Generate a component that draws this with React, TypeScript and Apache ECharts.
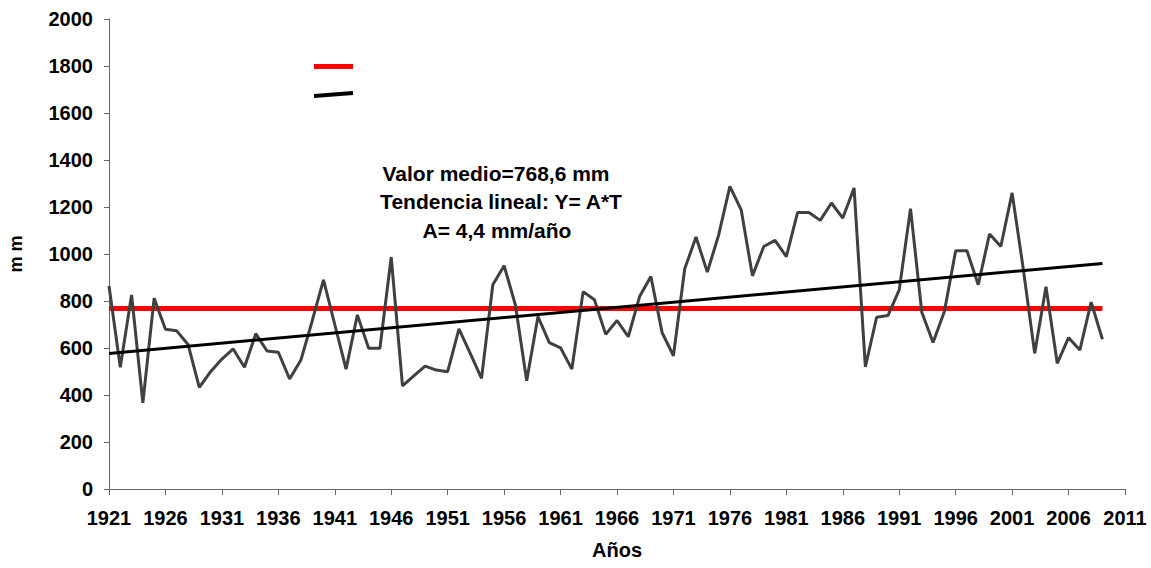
import React, { useEffect, useRef } from "react";
import * as echarts from "echarts";

const startYear = 1921;
const rainfall = [
  864, 518, 826, 367, 812, 680, 673, 615, 432, 499,
  553, 596, 518, 661, 587, 582, 468, 549, 715, 890,
  700, 510, 741, 599, 599, 987, 439, 481, 523, 506,
  499, 681, 577, 471, 869, 950, 783, 461, 734, 623,
  601, 510, 840, 805, 658, 717, 648, 819, 904, 665,
  567, 937, 1072, 923, 1080, 1288, 1188, 907, 1032, 1058,
  989, 1177, 1177, 1143, 1217, 1153, 1281, 520, 731, 738,
  847, 1193, 752, 623, 755, 1014, 1014, 869, 1085, 1032,
  1260, 933, 577, 861, 535, 644, 591, 795, 637,
];
const meanValue = 768.6;
const trendYears = [1921, 2009];
const trendValues = [577, 960];
const annotationLines = [
  "Valor medio=768,6 mm",
  "Tendencia lineal: Y= A*T",
  "A= 4,4 mm/año",
];

const FONT = "'Liberation Sans', Arial, sans-serif";

export default function App() {
  const ref = useRef<HTMLDivElement>(null);
  useEffect(() => {
    if (!ref.current) return;
    const chart = echarts.init(ref.current, undefined, { renderer: "svg" });
    const years = rainfall.map((_, i) => startYear + i);
    const dataPts = rainfall.map((v, i) => [years[i], v]);
    const lastYear = years[years.length - 1];
    const meanPts = [
      [years[0], meanValue],
      [lastYear, meanValue],
    ];
    const trendPts = trendYears.map((y, i) => [y, trendValues[i]]);

    chart.setOption({
      animation: false,
      backgroundColor: "#ffffff",
      textStyle: { fontFamily: FONT },
      grid: {
        left: 109,
        right: 26,
        top: 19,
        bottom: 79,
        containLabel: false,
        outerBoundsMode: "none",
      },
      xAxis: {
        type: "value",
        min: 1921,
        max: 2011,
        interval: 5,
        name: "Años",
        nameLocation: "middle",
        nameGap: 51,
        nameTextStyle: { fontFamily: FONT, fontWeight: "bold", fontSize: 20, color: "#000" },
        axisLine: { lineStyle: { color: "#666", width: 1 } },
        axisTick: { show: true, length: 6, lineStyle: { color: "#666" } },
        axisLabel: {
          fontFamily: FONT,
          fontWeight: "bold",
          fontSize: 20,
          color: "#000",
          margin: 19,
          formatter: (v: number) => String(v),
        },
        splitLine: { show: false },
      },
      yAxis: {
        type: "value",
        min: 0,
        max: 2000,
        interval: 200,
        name: "m m",
        nameLocation: "middle",
        nameGap: 84,
        nameRotate: 90,
        nameTextStyle: { fontFamily: FONT, fontWeight: "bold", fontSize: 18, color: "#000" },
        axisLine: { show: true, lineStyle: { color: "#666", width: 1 } },
        axisTick: { show: true, length: 5, lineStyle: { color: "#666" } },
        axisLabel: {
          fontFamily: FONT,
          fontWeight: "bold",
          fontSize: 20,
          color: "#000",
          margin: 16,
          formatter: (v: number) => String(v),
        },
        splitLine: { show: false },
      },
      series: [
        {
          type: "line",
          name: "Valor medio",
          data: meanPts,
          symbol: "none",
          lineStyle: { color: "#ff0000", width: 5 },
          z: 2,
        },
        {
          type: "line",
          name: "Precipitación",
          data: dataPts,
          symbol: "none",
          lineStyle: { color: "#404040", width: 3 },
          z: 3,
        },
        {
          type: "line",
          name: "Tendencia",
          data: trendPts,
          symbol: "none",
          lineStyle: { color: "#000000", width: 3 },
          z: 4,
        },
      ],
      graphic: [
        {
          type: "line",
          shape: { x1: 314, y1: 66.5, x2: 353, y2: 66.5 },
          style: { stroke: "#ff0000", lineWidth: 5 },
        },
        {
          type: "line",
          shape: { x1: 314, y1: 96, x2: 353, y2: 93 },
          style: { stroke: "#000000", lineWidth: 4 },
        },
        ...annotationLines.map((t, i) => ({
          type: "text",
          x: [496, 501, 497][i],
          y: 173 + i * 28.5,
          style: {
            text: t,
            fontFamily: FONT,
            fontWeight: "bold",
            fontSize: 21,
            fill: "#000",
            textAlign: "center",
            textVerticalAlign: "middle",
          },
        })),
      ],
    });
    return () => chart.dispose();
  }, []);
  return (
    <div
      ref={ref}
      style={{ position: "fixed", left: 0, top: 0, width: 1151, height: 568 }}
    />
  );
}
